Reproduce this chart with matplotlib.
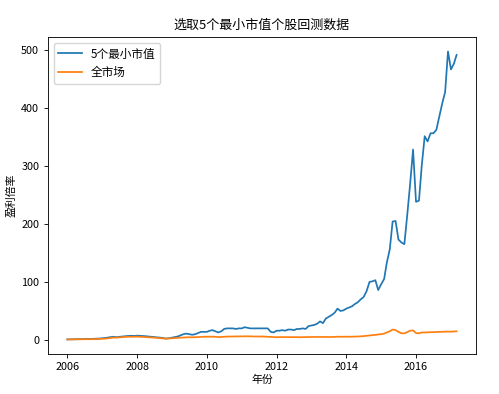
import matplotlib
matplotlib.use("Agg")
import matplotlib.pyplot as plt
import matplotlib.dates as mdates
import pandas as pd

plt.rcParams['font.family'] = ['Noto Sans CJK SC', 'DejaVu Sans']
plt.rcParams['axes.unicode_minus'] = False

title = "选取5个最小市值个股回测数据"
xlabel = "年份"
ylabel = "盈利倍率"
series_names = ["5个最小市值", "全市场"]
start_date = "2006-01-01"

small_cap = [
    1.0, 1.1, 1.2, 1.3, 1.5, 1.6, 1.5, 1.6, 1.8, 2.0, 2.2, 2.5,          # 2006
    3.0, 3.5, 4.2, 5.0, 5.5, 4.8, 5.5, 6.0, 6.5, 7.0, 7.2, 7.0,          # 2007
    7.5, 7.2, 6.8, 6.5, 6.0, 5.5, 5.0, 4.5, 4.0, 3.2, 2.5, 3.0,          # 2008
    4.0, 5.0, 6.0, 8.0, 10.0, 11.0, 10.0, 9.0, 10.0, 12.0, 14.0, 14.0,   # 2009
    14.0, 16.0, 17.0, 15.0, 13.0, 15.0, 19.0, 20.0, 20.0, 20.0, 19.0, 20.0,  # 2010
    20.0, 22.0, 21.0, 20.0, 20.0, 20.0, 20.0, 20.0, 20.0, 20.0, 14.0, 13.0,  # 2011
    16.0, 16.0, 17.0, 16.0, 18.0, 18.0, 17.0, 19.0, 19.0, 20.0, 19.0, 24.0,  # 2012
    25.0, 26.0, 28.0, 32.0, 29.0, 37.0, 40.0, 43.0, 47.0, 54.0, 50.0, 51.0,  # 2013
    54.0, 56.0, 58.0, 62.0, 65.0, 70.0, 74.0, 84.0, 100.0, 101.0, 103.0, 86.0,  # 2014
    96.0, 105.0, 133.0, 156.0, 204.0, 205.0, 173.0, 168.0, 165.0, 215.0, 270.0, 328.0,  # 2015
    238.0, 240.0, 300.0, 351.0, 342.0, 356.0, 356.0, 362.0, 385.0, 407.0, 427.0, 497.0,  # 2016
    466.0, 476.0, 491.0,                                                  # 2017
]

market = [
    1.0, 1.0, 1.1, 1.1, 1.2, 1.2, 1.3, 1.3, 1.4, 1.5, 1.6, 1.8,
    2.0, 2.3, 2.8, 3.5, 4.2, 4.0, 4.5, 5.0, 5.3, 5.6, 5.5, 5.6,
    5.8, 5.6, 5.3, 5.0, 4.8, 4.5, 4.0, 3.5, 3.0, 2.6, 2.4, 2.6,
    3.0, 3.3, 3.6, 4.0, 4.3, 4.6, 4.8, 4.6, 4.8, 5.0, 5.3, 5.6,
    5.6, 5.8, 5.8, 5.5, 5.0, 5.2, 5.6, 5.9, 6.0, 6.2, 6.3, 6.2,
    6.3, 6.4, 6.4, 6.2, 6.1, 6.0, 6.0, 6.0, 5.8, 5.6, 5.3, 5.0,
    4.8, 5.0, 5.0, 5.0, 5.1, 5.0, 4.9, 4.9, 4.8, 4.9, 5.0, 5.1,
    5.2, 5.2, 5.3, 5.2, 5.3, 5.2, 5.1, 5.3, 5.5, 5.6, 5.6, 5.5,
    5.5, 5.6, 5.7, 5.8, 6.0, 6.3, 6.7, 7.2, 7.8, 8.3, 8.8, 9.5,
    10.0, 11.0, 13.0, 15.0, 18.0, 17.0, 14.0, 11.5, 11.5, 13.5, 16.0, 16.5,
    12.0, 11.5, 13.0, 13.0, 13.2, 13.5, 13.7, 14.0, 14.0, 14.2, 14.5, 14.5,
    14.3, 14.6, 15.0,
]

dates = pd.date_range(start_date, periods=len(small_cap), freq="MS")

scale = 0.78
fig = plt.figure(figsize=(4.99, 3.94), dpi=100)
ax = fig.add_axes([0.096, 0.102, 0.858, 0.804])
ax.plot(dates, small_cap, color="#1f77b4", lw=1.6 * scale, label=series_names[0])
ax.plot(dates, market, color="#ff7f0e", lw=1.6 * scale, label=series_names[1])

ax.xaxis.set_major_locator(mdates.YearLocator(2))
ax.xaxis.set_major_formatter(mdates.DateFormatter("%Y"))
ax.tick_params(labelsize=10 * scale, length=3.5 * scale, width=0.8 * scale)
for s in ax.spines.values():
    s.set_linewidth(0.8 * scale)

ax.set_title(title, fontsize=12 * scale, pad=8 * scale)
ax.set_xlabel(xlabel, fontsize=10 * scale, labelpad=2)
ax.set_ylabel(ylabel, fontsize=10 * scale, labelpad=3)
ax.legend(loc="upper left", fontsize=8.4)

fig.savefig("out.png", dpi=100)
